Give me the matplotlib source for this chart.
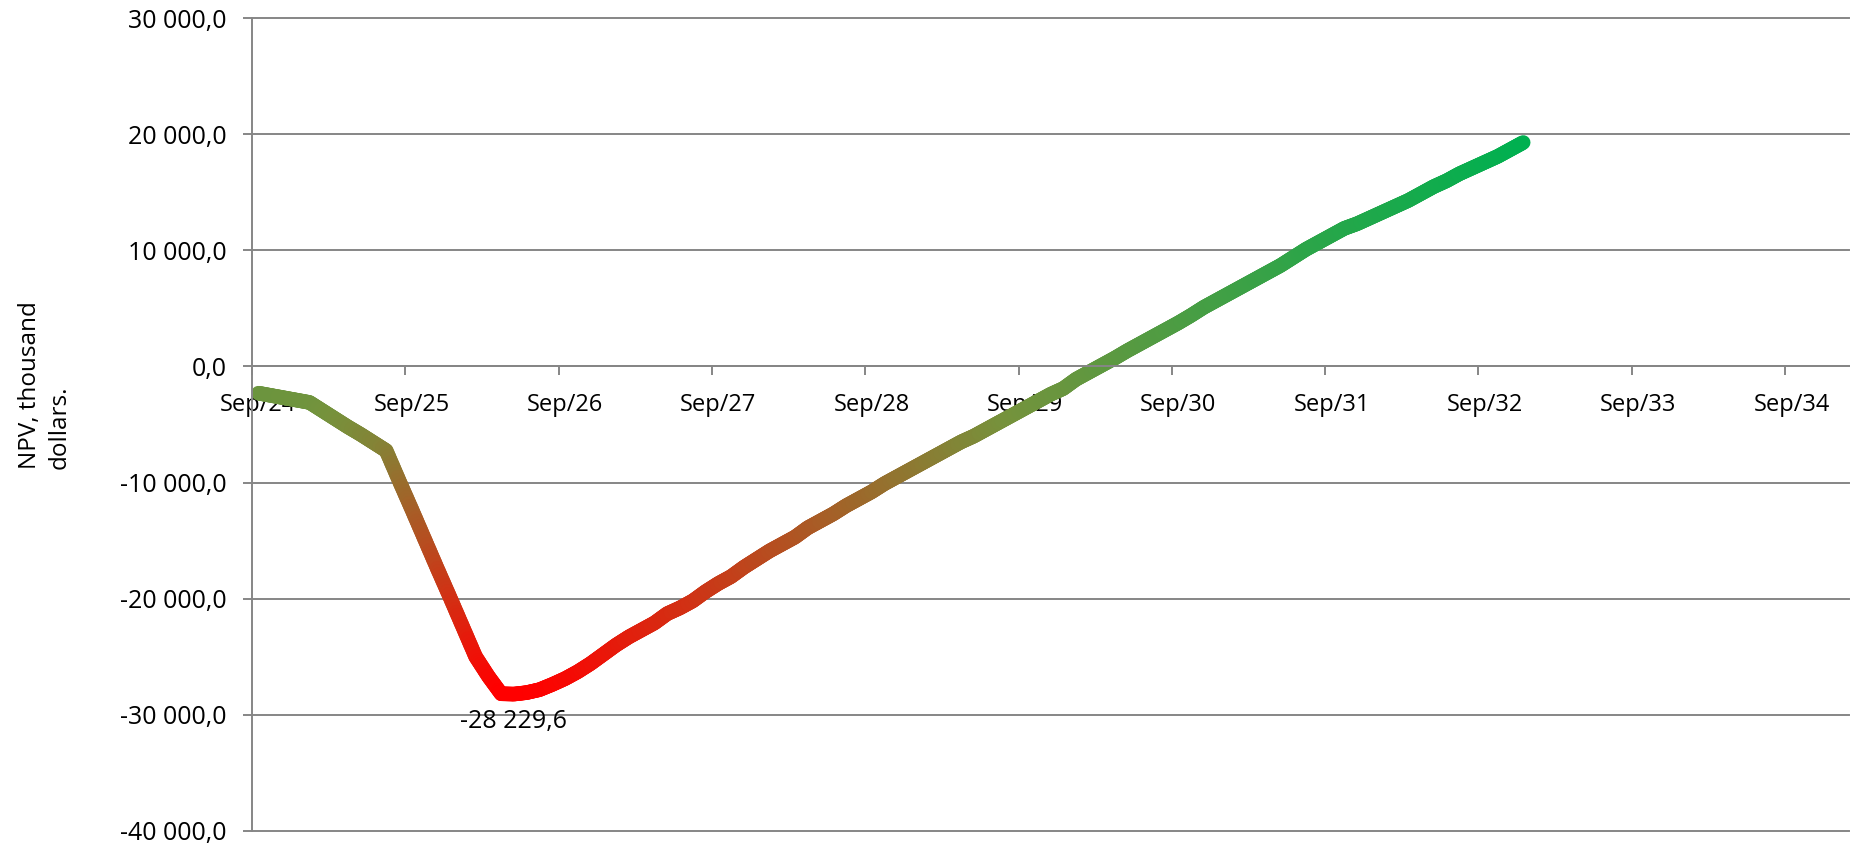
import numpy as np
import matplotlib
matplotlib.use("Agg")
import matplotlib.pyplot as plt
from matplotlib.collections import LineCollection
from matplotlib.colors import LinearSegmentedColormap, Normalize
from matplotlib.ticker import FuncFormatter, FixedLocator

# Monthly cumulative NPV, thousand dollars, starting Sep/24
npv = [
    -2300, -2500, -2700, -2900, -3100, -3800, -4500, -5200, -5850, -6550,
    -7250, -9800, -12300, -14850, -17400, -19900, -22450, -25000, -26700, -28200,
    -28229.6, -28100, -27850, -27400, -26900, -26300, -25600, -24800, -24000, -23300,
    -22700, -22100, -21300, -20800, -20200, -19400, -18700, -18100, -17300, -16600,
    -15900, -15300, -14700, -13900, -13300, -12700, -12000, -11400, -10800, -10100,
    -9500, -8900, -8300, -7700, -7100, -6500, -6000, -5400, -4800, -4200,
    -3600, -3000, -2400, -1900, -1100, -500, 100, 700, 1350, 1950,
    2550, 3150, 3750, 4400, 5100, 5700, 6300, 6900, 7500, 8100,
    8700, 9400, 10100, 10700, 11300, 11900, 12300, 12800, 13300, 13800,
    14300, 14900, 15500, 16000, 16600, 17100, 17600, 18100, 18700, 19300,
]
n_categories = 125            # Sep/24 .. Jan/35, one category per month
year_labels = ["Sep/24", "Sep/25", "Sep/26", "Sep/27", "Sep/28", "Sep/29",
               "Sep/30", "Sep/31", "Sep/32", "Sep/33", "Sep/34"]
y_ticks = [-40000, -30000, -20000, -10000, 0, 10000, 20000, 30000]

FONT = "Open Sans"
GRAY = "#868686"
plt.rcParams["font.family"] = [FONT, "DejaVu Sans"]


def fmt_value(v, pos=None):
    s = f"{abs(v):,.1f}".replace(",", " ").replace(".", ",")
    return ("-" if v < 0 else "") + s


fig = plt.figure(figsize=(18.5, 8.49), dpi=100)
W, H = 1850, 849
left_px, right_px, top_px, bottom_px = 252, 1849, 18.3, 830.7
ax = fig.add_axes([left_px / W, 1 - bottom_px / H,
                   (right_px - left_px) / W, (bottom_px - top_px) / H])

ax.set_xlim(-0.5, n_categories - 0.5)
ax.set_ylim(y_ticks[0], y_ticks[-1])

# value-coloured line (red at the trough, green at the peak)
cmap = LinearSegmentedColormap.from_list(
    "npv", [(0.0, "#FF0000"), (0.5, "#76923C"), (1.0, "#00B050")])
norm = Normalize(vmin=min(npv), vmax=max(npv))
xs = np.arange(len(npv), dtype=float)
ys = np.asarray(npv, dtype=float)
segs, cols = [], []
steps = 10
for i in range(len(npv) - 1):
    for k in range(steps):
        t0, t1 = k / steps, (k + 1) / steps
        x0 = xs[i] + (xs[i + 1] - xs[i]) * t0
        x1 = xs[i] + (xs[i + 1] - xs[i]) * t1
        y0 = ys[i] + (ys[i + 1] - ys[i]) * t0
        y1 = ys[i] + (ys[i + 1] - ys[i]) * t1
        segs.append([(x0, y0), (x1, y1)])
        cols.append(cmap(norm((y0 + y1) / 2)))
lc = LineCollection(segs, colors=cols, linewidths=10.5,
                    capstyle="round", joinstyle="round", zorder=2.2)
ax.add_collection(lc)

# minimum label
imin = int(np.argmin(ys))
ax.annotate(fmt_value(npv[imin]), (xs[imin], ys[imin]),
            xytext=(0, -27), textcoords="offset pixels",
            ha="center", va="center", fontsize=18, color="black",
            zorder=3)

# axes styling
for side in ("top", "right"):
    ax.spines[side].set_visible(False)
ax.spines["left"].set_color(GRAY)
ax.spines["left"].set_linewidth(1.4)
ax.spines["bottom"].set_position(("data", 0))
ax.spines["bottom"].set_color(GRAY)
ax.spines["bottom"].set_linewidth(1.4)

ax.yaxis.set_major_locator(FixedLocator(y_ticks))
ax.yaxis.set_major_formatter(FuncFormatter(fmt_value))
ax.tick_params(axis="y", which="major", direction="out", length=6.5,
               width=1.4, color=GRAY, pad=12, labelsize=18,
               labelcolor="black")
ax.yaxis.grid(True, color=GRAY, linewidth=1.4)
ax.set_axisbelow("line")
for gl in ax.get_ygridlines():
    gl.set_clip_on(False)

# year boundaries as tick marks, labels centred on the Sep category
ax.xaxis.set_major_locator(FixedLocator([12 * k - 0.5 for k in range(len(year_labels))]))
ax.xaxis.set_major_formatter(FuncFormatter(lambda v, p: ""))
ax.xaxis.set_minor_locator(FixedLocator([12 * k for k in range(len(year_labels))]))
ax.set_xticklabels(year_labels, minor=True)
ax.tick_params(axis="x", which="major", direction="out", length=6.5,
               width=1.4, color=GRAY)
ax.tick_params(axis="x", which="minor", length=0, pad=19,
               labelsize=17, labelcolor="black")

fig.text(45 / W, 1 - 469 / H, "NPV, thousand\ndollars.", rotation=90,
         ha="center", va="bottom", multialignment="left",
         fontsize=17.5, linespacing=1.3)

fig.savefig("out.png", dpi=100)
